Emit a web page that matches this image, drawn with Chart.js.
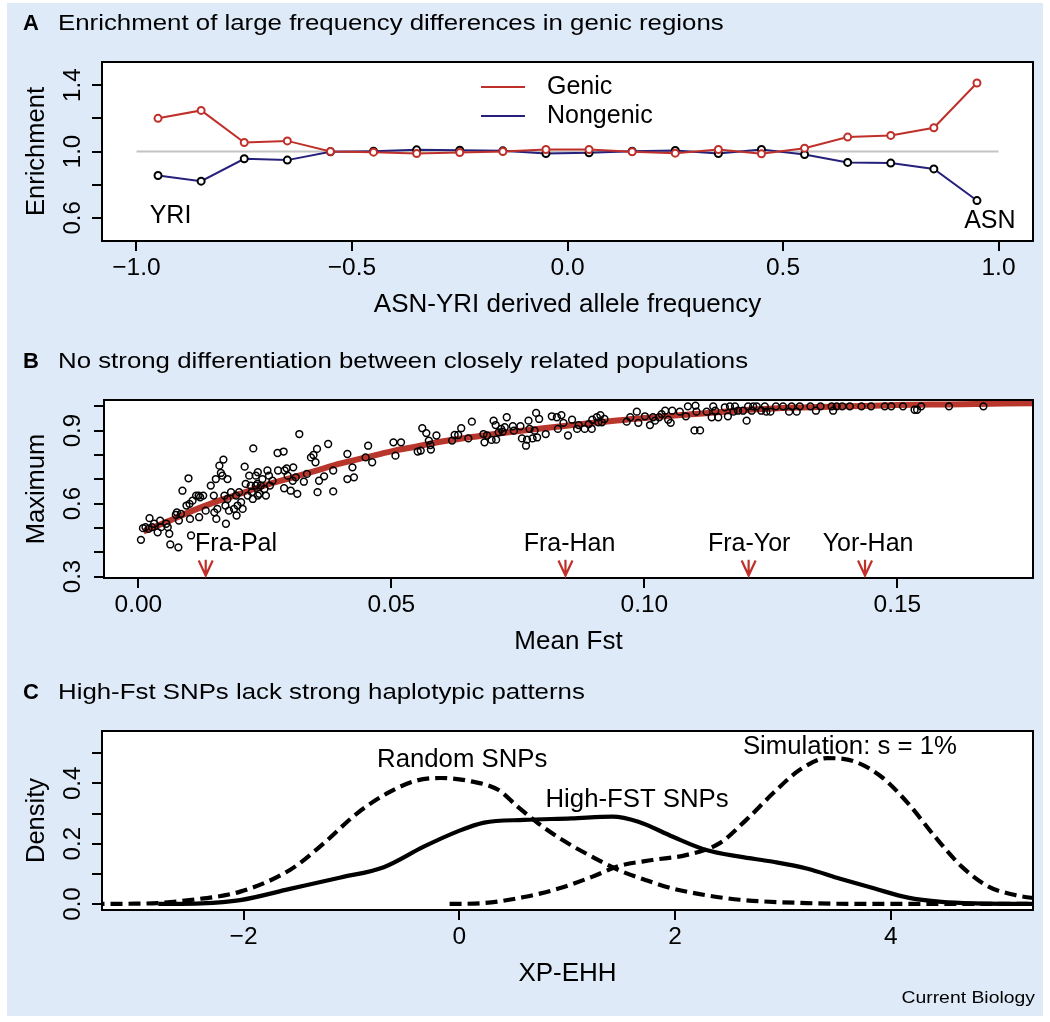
<!DOCTYPE html>
<html>
<head>
<meta charset="utf-8">
<script src="https://cdn.jsdelivr.net/npm/chart.js@4.4.1/dist/chart.umd.min.js"></script>
<style>
  html, body { margin: 0; padding: 0; background: #fff; }
  #page { position: relative; width: 1050px; height: 1022px; background: #fff; overflow: hidden; }
  #bg { position: absolute; left: 7px; top: 3px; width: 1036px; height: 1013px; background: #deeaf8; }
  canvas { position: absolute; left: 0; }
</style>
</head>
<body>
<div id="page">
  <div id="bg"></div>
  <canvas id="chartA" width="1050" height="330" style="top:0px"></canvas>
  <canvas id="chartB" width="1050" height="330" style="top:330px"></canvas>
  <canvas id="chartC" width="1050" height="362" style="top:660px"></canvas>
</div>
<script>
// ---------- Panel A data ----------
const freqBins = [-0.95, -0.85, -0.75, -0.65, -0.55, -0.45, -0.35, -0.25, -0.15, -0.05,
                  0.05, 0.15, 0.25, 0.35, 0.45, 0.55, 0.65, 0.75, 0.85, 0.95];
const genicEnrich = [1.200, 1.248, 1.054, 1.064, 1.000, 0.996, 0.988, 0.994, 1.000, 1.012,
                     1.012, 0.998, 0.990, 1.012, 0.986, 1.020, 1.087, 1.097, 1.143, 1.413];
const nongenicEnrich = [0.855, 0.821, 0.956, 0.948, 0.998, 1.002, 1.010, 1.008, 1.004, 0.988,
                        0.992, 1.002, 1.006, 0.988, 1.012, 0.982, 0.934, 0.930, 0.895, 0.704];
const seriesNamesA = ['Genic', 'Nongenic'];
const xTicksA = [-1, -0.5, 0, 0.5, 1];
const xLabelsA = ['\u22121.0', '\u22120.5', '0.0', '0.5', '1.0'];
const yTicksA = [0.6, 0.8, 1.0, 1.2, 1.4];
const yLabelsA = ['0.6', '', '1.0', '', '1.4'];

// ---------- Panel B data ----------
const snpPoints = [
  [0.0005,0.451],[0.0009,0.499],[0.0014,0.503],[0.0022,0.540],[0.0020,0.496],[0.0027,0.503],[0.0031,0.517],[0.0038,0.482],[0.0043,0.530],[0.0045,0.503],
  [0.0055,0.517],[0.0058,0.503],[0.0061,0.476],[0.0063,0.432],[0.0079,0.420],[0.0074,0.554],[0.0080,0.530],[0.0076,0.564],[0.0084,0.558],[0.0087,0.653],
  [0.0095,0.592],[0.0099,0.704],[0.0101,0.599],[0.0102,0.537],[0.0104,0.469],[0.0107,0.612],[0.0114,0.633],[0.0119,0.633],[0.0120,0.544],[0.0122,0.626],
  [0.0128,0.633],[0.0133,0.571],[0.0143,0.674],[0.0149,0.633],[0.0150,0.564],[0.0153,0.701],[0.0154,0.537],[0.0156,0.578],[0.0160,0.756],[0.0163,0.726],
  [0.0166,0.715],[0.0168,0.781],[0.0170,0.633],[0.0172,0.592],[0.0173,0.517],[0.0176,0.701],[0.0176,0.619],[0.0179,0.571],[0.0183,0.647],[0.0189,0.578],
  [0.0193,0.633],[0.0194,0.551],[0.0196,0.592],[0.0199,0.647],[0.0203,0.606],[0.0206,0.578],[0.0210,0.752],[0.0212,0.681],[0.0216,0.633],[0.0219,0.715],
  [0.0222,0.674],[0.0224,0.647],[0.0226,0.619],[0.0227,0.827],[0.0232,0.674],[0.0236,0.633],[0.0236,0.729],
  [0.0232,0.715],[0.0235,0.681],[0.0239,0.640],[0.0242,0.674],[0.0245,0.701],[0.0249,0.660],[0.0252,0.633],[0.0255,0.736],[0.0258,0.715],[0.0260,0.674],
  [0.0265,0.694],[0.0275,0.808],[0.0276,0.736],[0.0287,0.814],[0.0288,0.663],[0.0289,0.736],[0.0293,0.745],[0.0295,0.715],[0.0301,0.653],[0.0305,0.694],
  [0.0306,0.749],[0.0311,0.708],[0.0314,0.640],[0.0318,0.886],[0.0327,0.690],[0.0333,0.722],[0.0341,0.790],[0.0346,0.800],[0.0350,0.770],[0.0353,0.825],
  [0.0354,0.647],[0.0357,0.694],[0.0367,0.712],[0.0375,0.845],[0.0385,0.736],[0.0385,0.650],[0.0413,0.804],[0.0413,0.701],[0.0423,0.749],[0.0426,0.708],
  [0.0449,0.790],[0.0454,0.838],[0.0462,0.770],[0.0504,0.852],[0.0508,0.797],[0.0519,0.852],[0.0552,0.814],[0.0558,0.818],[0.0561,0.910],[0.0569,0.890],
  [0.0574,0.859],[0.0577,0.841],[0.0578,0.822],[0.0589,0.880],[0.0620,0.859],
  [0.0625,0.882],[0.0632,0.882],[0.0638,0.910],[0.0652,0.868],[0.0659,0.937],[0.0682,0.886],[0.0684,0.852],[0.0689,0.880],[0.0698,0.862],[0.0702,0.941],
  [0.0706,0.923],[0.0707,0.863],[0.0712,0.893],[0.0717,0.907],[0.0720,0.896],[0.0724,0.914],[0.0728,0.955],[0.0740,0.918],[0.0742,0.900],[0.0755,0.918],
  [0.0758,0.868],[0.0766,0.838],[0.0768,0.863],[0.0771,0.941],[0.0773,0.907],[0.0779,0.868],[0.0783,0.900],[0.0786,0.973],[0.0788,0.872],[0.0792,0.948],
  [0.0805,0.886],[0.0817,0.959],[0.0827,0.955],[0.0829,0.907],[0.0836,0.964],[0.0840,0.932],[0.0849,0.880],[0.0857,0.945],[0.0867,0.907],[0.0870,0.923],
  [0.0882,0.907],[0.0890,0.927],[0.0896,0.907],[0.0897,0.945],[0.0906,0.955],[0.0909,0.934],[0.0913,0.964],[0.0916,0.934],[0.0921,0.948],[0.0965,0.937],
  [0.0972,0.955],[0.0985,0.978],[0.0988,0.932],[0.1001,0.959],[0.1011,0.923],[0.1017,0.955],[0.1021,0.941],[0.1029,0.955],[0.1034,0.968],[0.1041,0.982],
  [0.1047,0.945],[0.1052,0.932],[0.1055,0.982],[0.1070,0.978],[0.1082,0.959],[0.1086,1.000],[0.1099,0.901],[0.1101,1.003],[0.1103,0.978],[0.1110,0.901],
  [0.1123,0.978],[0.1133,0.955],[0.1136,1.000],[0.1140,0.982],[0.1146,0.955],[0.1159,0.996],[0.1165,0.959],[0.1169,1.000],[0.1176,0.978],[0.1179,1.000],
  [0.1185,0.982],[0.1195,0.982],[0.1202,0.941],[0.1205,1.000],[0.1212,0.982],[0.1215,1.000],[0.1222,1.000],[0.1231,0.982],[0.1238,1.000],[0.1241,0.978],
  [0.1249,0.978],[0.1260,1.000],[0.1274,1.000],[0.1286,0.978],[0.1291,1.000],[0.1301,0.978],[0.1307,1.000],[0.1328,1.000],[0.1339,0.982],[0.1348,1.000],
  [0.1370,1.000],[0.1373,0.982],[0.1380,1.000],[0.1391,1.000],[0.1406,1.000],[0.1429,1.000],[0.1448,1.000],[0.1475,1.000],[0.1488,1.000],[0.1511,1.000],
  [0.1534,0.986],[0.1539,0.986],[0.1547,1.000],[0.1602,1.000],[0.1670,1.000]
];
const fitFst = [0.001, 0.005, 0.01, 0.015, 0.02, 0.025, 0.03, 0.035, 0.04, 0.045, 0.05, 0.055,
                0.06, 0.07, 0.08, 0.09, 0.10, 0.11, 0.12, 0.13, 0.14, 0.15, 0.16, 0.1768];
const fitMax = [0.485, 0.52, 0.565, 0.605, 0.64, 0.675, 0.705, 0.735, 0.765, 0.79, 0.815, 0.835,
                0.855, 0.885, 0.91, 0.932, 0.952, 0.968, 0.985, 0.995, 1.0, 1.005, 1.008, 1.013];
const pairNames = ['Fra-Pal', 'Fra-Han', 'Fra-Yor', 'Yor-Han'];
const pairFst = [0.0133, 0.0844, 0.1206, 0.1436];
const pairLabelFst = [0.0193, 0.0852, 0.1207, 0.1442];
const xTicksB = [0, 0.05, 0.10, 0.15];
const xLabelsB = ['0.00', '0.05', '0.10', '0.15'];
const yTicksB = [0.3, 0.4, 0.5, 0.6, 0.7, 0.8, 0.9, 1.0];
const yLabelsB = ['0.3', '', '', '0.6', '', '', '0.9', ''];

// ---------- Panel C data ----------
const randomX = [-3.4, -3.0, -2.8, -2.5, -2.03, -1.57, -1.26, -0.95, -0.64, -0.39, -0.17, 0.11, 0.36,
                 0.54, 0.73, 0.98, 1.23, 1.48, 1.73, 1.98, 2.29, 2.60, 3.22, 3.85, 5.4];
const randomY = [0, 0.001, 0.003, 0.013, 0.041, 0.113, 0.20, 0.30, 0.373, 0.41, 0.418, 0.407, 0.379,
                 0.323, 0.268, 0.207, 0.157, 0.112, 0.079, 0.051, 0.029, 0.014, 0.003, 0, 0];
const highFstX = [-2.79, -2.39, -2.03, -1.57, -1.10, -0.70, -0.33, -0.02, 0.23, 0.60, 1.04, 1.42,
                  1.66, 1.98, 2.29, 2.60, 2.91, 3.22, 3.53, 3.85, 4.16, 4.47, 4.78, 5.4];
const highFstY = [0, 0.002, 0.013, 0.05, 0.088, 0.122, 0.19, 0.24, 0.27, 0.279, 0.284, 0.29,
                  0.273, 0.223, 0.179, 0.157, 0.14, 0.118, 0.084, 0.051, 0.021, 0.007, 0.002, 0];
const simX = [-0.09, 0.23, 0.60, 0.92, 1.23, 1.48, 1.79, 2.10, 2.41, 2.66, 2.91, 3.16, 3.41,
              3.66, 3.91, 4.16, 4.41, 4.66, 4.91, 5.16, 5.34];
const simY = [0, 0.003, 0.023, 0.051, 0.09, 0.126, 0.146, 0.162, 0.201, 0.279, 0.368, 0.446, 0.484,
              0.473, 0.423, 0.334, 0.223, 0.123, 0.057, 0.029, 0.018];
const curveNamesC = ['Random SNPs', 'High-FST SNPs', 'Simulation: s = 1%'];
const curveLabelX = [0.027, 1.648, 3.621];
const curveLabelY = [0.478, 0.344, 0.521];
const xTicksC = [-2, 0, 2, 4];
const xLabelsC = ['\u22122', '0', '2', '4'];
const yTicksC = [0, 0.1, 0.2, 0.3, 0.4, 0.5];
const yLabelsC = ['0.0', '', '0.2', '', '0.4', ''];

// ---------- shared styling ----------
const FONT = '"Liberation Sans", Arial, Helvetica, sans-serif';
const RED = '#c0302a';
const NAVY = '#25207a';
const X_AXIS_H = 60;

function toXY(xs, ys) {
    return xs.map((x, i) => ({ x: x, y: ys[i] }));
}

// text helper: sx stretches the text horizontally, rot rotates it
function drawText(ctx, text, x, y, size, align, sx, rot, bold) {
    ctx.save();
    ctx.font = (bold ? 'bold ' : '') + size + 'px ' + FONT;
    ctx.fillStyle = '#000';
    ctx.textAlign = align;
    ctx.textBaseline = 'middle';
    ctx.translate(x, y);
    if (rot) ctx.rotate(rot);
    ctx.scale(sx || 1, 1);
    ctx.fillText(text, 0, 0);
    ctx.restore();
}

function xAxis(min, max, ticks, labels) {
    return {
        type: 'linear', min: min, max: max,
        afterBuildTicks: s => { s.ticks = ticks.map(v => ({ value: v })); },
        afterFit: s => { s.height = X_AXIS_H; },
        grid: { drawOnChartArea: false, drawTicks: true, tickLength: 10, color: '#000', lineWidth: 2 },
        border: { display: false },
        ticks: {
            autoSkip: false, maxRotation: 0, padding: 3, color: '#000',
            font: { family: FONT, size: 24.5 },
            callback: (v, i) => labels[i]
        }
    };
}

function yAxis(min, max, ticks, width) {
    return {
        type: 'linear', min: min, max: max,
        afterBuildTicks: s => { s.ticks = ticks.map(v => ({ value: v })); },
        afterFit: s => { s.width = width; },
        grid: { drawOnChartArea: false, drawTicks: true, tickLength: 10, color: '#000', lineWidth: 2 },
        border: { display: false },
        ticks: { display: false }
    };
}

function layoutFor(box, canvasTop, canvasH) {
    return {
        padding: {
            left: 0,
            top: box.top - canvasTop,
            right: 1050 - box.right,
            bottom: canvasH - (box.bottom - canvasTop) - X_AXIS_H
        }
    };
}

// white plot area, box, panel title, axis titles and rotated y tick labels
const panelDecor = {
    id: 'panelDecor',
    beforeDraw(chart, args, opts) {
        const a = chart.chartArea;
        const ctx = chart.ctx;
        ctx.save();
        ctx.fillStyle = '#fff';
        ctx.fillRect(a.left, a.top, a.right - a.left, a.bottom - a.top);
        ctx.restore();
    },
    afterDraw(chart, args, opts) {
        const a = chart.chartArea;
        const ctx = chart.ctx;
        const y = chart.scales.y;
        ctx.save();
        ctx.strokeStyle = '#000';
        ctx.lineWidth = 2;
        ctx.strokeRect(a.left, a.top, a.right - a.left, a.bottom - a.top);
        ctx.restore();

        drawText(ctx, opts.letter, 23, a.top - 38, 22, 'left', 1, 0, true);
        drawText(ctx, opts.title, 58, a.top - 38, 22, 'left', 1.174);
        drawText(ctx, opts.xTitle, (a.left + a.right) / 2, a.bottom + 64, 25, 'center', 1.04);
        drawText(ctx, opts.yTitle, 37, (a.top + a.bottom) / 2, 25.5, 'center', 1, -Math.PI / 2);

        opts.yTicks.forEach((v, i) => {
            if (!opts.yLabels[i]) return;
            drawText(ctx, opts.yLabels[i], 73, y.getPixelForValue(v), 24, 'center', 1, -Math.PI / 2);
        });
    }
};

// ---------- Panel A ----------
const boxA = { left: 102, top: 62, right: 1033, bottom: 241 };
const panelAExtras = {
    id: 'panelAExtras',
    afterDraw(chart) {
        const ctx = chart.ctx;
        const x = chart.scales.x, y = chart.scales.y;
        // legend
        const colors = [RED, NAVY];
        const rows = [87, 116];
        seriesNamesA.forEach((name, i) => {
            ctx.save();
            ctx.strokeStyle = colors[i];
            ctx.lineWidth = 2;
            ctx.beginPath();
            ctx.moveTo(481, rows[i]);
            ctx.lineTo(525, rows[i]);
            ctx.stroke();
            ctx.restore();
            drawText(ctx, name, 547, rows[i], 25, 'left');
        });
        // population labels
        drawText(ctx, 'YRI', x.getPixelForValue(-0.921), y.getPixelForValue(0.613), 25, 'center');
        drawText(ctx, 'ASN', x.getPixelForValue(0.980), y.getPixelForValue(0.583), 25, 'center');
    }
};

new Chart(document.getElementById('chartA'), {
    type: 'line',
    data: {
        datasets: [
            {
                label: seriesNamesA[0],
                data: toXY(freqBins, genicEnrich),
                borderColor: RED, borderWidth: 2,
                pointRadius: 3.5, pointBorderWidth: 2,
                pointBorderColor: RED, pointBackgroundColor: '#fff',
                order: 0
            },
            {
                label: seriesNamesA[1],
                data: toXY(freqBins, nongenicEnrich),
                borderColor: NAVY, borderWidth: 2,
                pointRadius: 3.5, pointBorderWidth: 2,
                pointBorderColor: '#000', pointBackgroundColor: '#fff',
                order: 1
            },
            {
                label: 'reference',
                data: toXY([-1, 1], [1, 1]),
                borderColor: '#c4c4c4', borderWidth: 2, pointRadius: 0,
                order: 2
            }
        ]
    },
    options: {
        responsive: false,
        animation: false,
        devicePixelRatio: 1,
        layout: layoutFor(boxA, 0, 330),
        scales: {
            x: xAxis(-1.08, 1.08, xTicksA, xLabelsA),
            y: yAxis(0.46, 1.54, yTicksA, boxA.left)
        },
        plugins: {
            legend: { display: false },
            tooltip: { enabled: false },
            panelDecor: {
                letter: 'A',
                title: 'Enrichment of large frequency differences in genic regions',
                xTitle: 'ASN-YRI derived allele frequency',
                yTitle: 'Enrichment',
                yTicks: yTicksA, yLabels: yLabelsA
            }
        }
    },
    plugins: [panelDecor, panelAExtras]
});

// ---------- Panel B ----------
const boxB = { left: 104, top: 400, right: 1033, bottom: 578 };
const panelBExtras = {
    id: 'panelBExtras',
    afterDraw(chart) {
        const ctx = chart.ctx;
        const x = chart.scales.x, y = chart.scales.y;
        pairNames.forEach((name, i) => {
            const px = x.getPixelForValue(pairFst[i]);
            const yTop = y.getPixelForValue(0.369);
            const yTip = y.getPixelForValue(0.304);
            ctx.save();
            ctx.strokeStyle = RED;
            ctx.lineWidth = 2.2;
            ctx.beginPath();
            ctx.moveTo(px, yTop);
            ctx.lineTo(px, yTip);
            ctx.moveTo(px - 7, yTip - 15);
            ctx.lineTo(px, yTip);
            ctx.lineTo(px + 7, yTip - 15);
            ctx.stroke();
            ctx.restore();
            drawText(ctx, name, x.getPixelForValue(pairLabelFst[i]), y.getPixelForValue(0.4315), 25, 'center');
        });
    }
};

new Chart(document.getElementById('chartB'), {
    type: 'scatter',
    data: {
        datasets: [
            {
                label: 'SNPs',
                data: snpPoints.map(p => ({ x: p[0], y: p[1] })),
                pointRadius: 3.4, pointBorderWidth: 1.5,
                pointBorderColor: '#000', pointBackgroundColor: 'rgba(0,0,0,0)',
                order: 0
            },
            {
                type: 'line',
                label: 'fit',
                data: toXY(fitFst, fitMax),
                borderColor: '#b8362b', borderWidth: 6, pointRadius: 0,
                cubicInterpolationMode: 'monotone',
                order: 1
            }
        ]
    },
    options: {
        responsive: false,
        animation: false,
        devicePixelRatio: 1,
        layout: layoutFor(boxB, 330, 330),
        scales: {
            x: xAxis(-0.0068, 0.1768, xTicksB, xLabelsB),
            y: yAxis(0.294, 1.026, yTicksB, boxB.left)
        },
        plugins: {
            legend: { display: false },
            tooltip: { enabled: false },
            panelDecor: {
                letter: 'B',
                title: 'No strong differentiation between closely related populations',
                xTitle: 'Mean Fst',
                yTitle: 'Maximum',
                yTicks: yTicksB, yLabels: yLabelsB
            }
        }
    },
    plugins: [panelDecor, panelBExtras]
});

// ---------- Panel C ----------
const boxC = { left: 102, top: 731, right: 1033, bottom: 910 };
const panelCExtras = {
    id: 'panelCExtras',
    afterDraw(chart) {
        const ctx = chart.ctx;
        const x = chart.scales.x, y = chart.scales.y;
        curveNamesC.forEach((name, i) => {
            drawText(ctx, name, x.getPixelForValue(curveLabelX[i]), y.getPixelForValue(curveLabelY[i]), 25, 'center', 1.03);
        });
        drawText(ctx, 'Current Biology', 1035, 998 - 660, 17, 'right', 1.14);
    }
};

const curveStyle = { borderColor: '#000', borderWidth: 4.2, pointRadius: 0, cubicInterpolationMode: 'monotone', borderCapStyle: 'butt' };

new Chart(document.getElementById('chartC'), {
    type: 'line',
    data: {
        datasets: [
            Object.assign({ label: curveNamesC[0], data: toXY(randomX, randomY), borderDash: [12, 6] }, curveStyle),
            Object.assign({ label: curveNamesC[1], data: toXY(highFstX, highFstY) }, curveStyle),
            Object.assign({ label: curveNamesC[2], data: toXY(simX, simY), borderDash: [12, 6] }, curveStyle)
        ]
    },
    options: {
        responsive: false,
        animation: false,
        devicePixelRatio: 1,
        layout: layoutFor(boxC, 660, 362),
        scales: {
            x: xAxis(-3.312, 5.318, xTicksC, xLabelsC),
            y: yAxis(-0.02, 0.574, yTicksC, boxC.left)
        },
        plugins: {
            legend: { display: false },
            tooltip: { enabled: false },
            panelDecor: {
                letter: 'C',
                title: 'High-Fst SNPs lack strong haplotypic patterns',
                xTitle: 'XP-EHH',
                yTitle: 'Density',
                yTicks: yTicksC, yLabels: yLabelsC
            }
        }
    },
    plugins: [panelDecor, panelCExtras]
});
</script>
</body>
</html>
